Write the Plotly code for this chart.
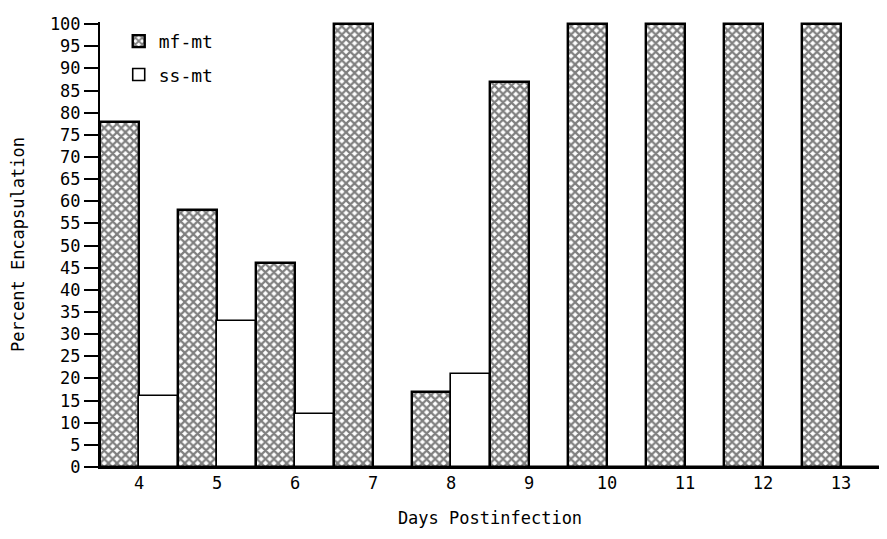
import plotly.graph_objects as go

days = ["4", "5", "6", "7", "8", "9", "10", "11", "12", "13"]
mf_mt = [78, 58, 46, 100, 17, 87, 100, 100, 100, 100]
ss_mt = [16, 33, 12, 0, 21, 0, 0, 0, 0, 0]
y_ticks = list(range(0, 101, 5))

FONT = "DejaVu Sans Mono"

fig = go.Figure()
fig.add_trace(go.Bar(
    x=days, y=mf_mt, name="mf-mt", legendgroup="a",
    marker=dict(color="white", line=dict(color="black", width=2.4),
                pattern=dict(shape="x", fgcolor="black", bgcolor="white",
                             size=6, solidity=0.6)),
))
fig.add_trace(go.Bar(
    x=days, y=ss_mt, name="ss-mt", legendgroup="b",
    marker=dict(color="white", line=dict(color="black", width=1.6)),
))

# page body has an 8px default margin, so the figure is slightly smaller
fig.update_layout(
    width=879, height=531,
    margin=dict(l=92, r=7, t=14, b=72),
    paper_bgcolor="white", plot_bgcolor="white",
    barmode="group", bargap=0, bargroupgap=0,
    font=dict(family=FONT, size=17, color="black"),
    showlegend=True,
    legend=dict(x=0.024, y=0.998, xanchor="left", yanchor="top",
                bgcolor="rgba(0,0,0,0)", tracegroupgap=7,
                font=dict(family=FONT, size=18)),
    xaxis=dict(
        type="category", range=[-0.5, 9.5], automargin=False,
        showline=True, linecolor="black", linewidth=2,
        ticks="", showgrid=False, zeroline=False,
        title=dict(text="Days Postinfection", standoff=20,
                   font=dict(family=FONT, size=17)),
        tickfont=dict(family=FONT, size=17),
    ),
    yaxis=dict(
        range=[0, 100.5], automargin=False,
        tickvals=y_ticks, ticktext=[str(v) for v in y_ticks],
        showline=True, linecolor="black", linewidth=2,
        ticks="outside", ticklen=14, tickwidth=1.8, tickcolor="black",
        showgrid=False, zeroline=False,
        title=dict(text="Percent Encapsulation", standoff=26,
                   font=dict(family=FONT, size=17)),
        tickfont=dict(family=FONT, size=17),
    ),
)

fig.write_html("out.html")
